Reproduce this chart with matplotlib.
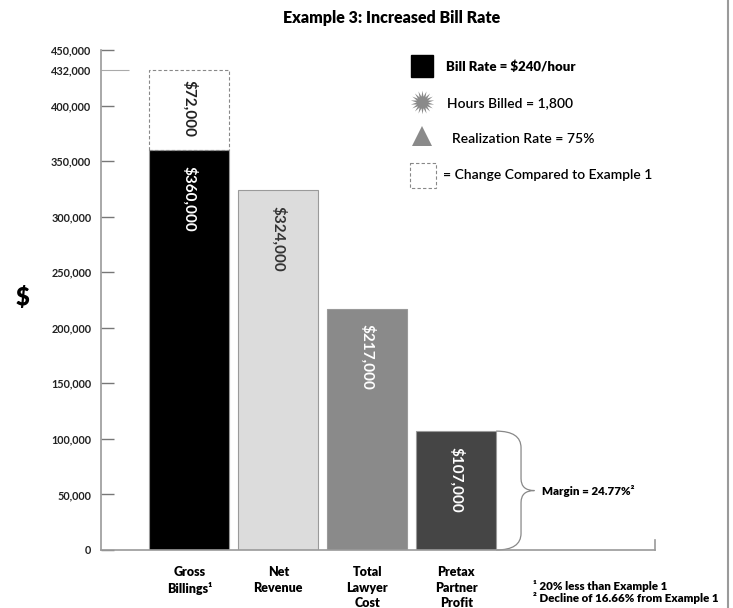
import matplotlib
matplotlib.use("Agg")
import matplotlib.pyplot as plt
from matplotlib.path import Path
from matplotlib.patches import PathPatch, Rectangle

categories = ["Gross\nBillings\u00b9", "Net\nRevenue", "Total\nLawyer\nCost", "Pretax\nPartner\nProfit"]
values = [360000, 324000, 217000, 107000]
value_labels = ["$360,000", "$324,000", "$217,000", "$107,000"]
change_value = 72000
change_label = "$72,000"
ytick_values = [0, 50000, 100000, 150000, 200000, 250000, 300000, 350000, 400000, 450000]
ytick_labels = ["0", "50,000", "100,000", "150,000", "200,000", "250,000", "300,000", "350,000", "400,000", "450,000"]
extra_tick = 432000
extra_tick_label = "432,000"
legend_items = ["Bill Rate = $240/hour", "Hours Billed = 1,800", "Realization Rate = 75%", "= Change Compared to Example 1"]
margin_label = "Margin = 24.77%\u00b2"
footnotes = ["\u00b9 20% less than Example 1", "\u00b2 Decline of 16.66% from Example 1"]
title = "Example 3: Increased Bill Rate"

bar_colors = ["#000000", "#dcdcdc", "#8a8a8a", "#454545"]
text_colors = ["white", "#333333", "white", "white"]

FONT = ["Lato", "DejaVu Sans"]
plt.rcParams["font.family"] = FONT

W, H = 733, 608
fig = plt.figure(figsize=(W / 100, H / 100), dpi=100)
fig.patch.set_facecolor("white")

ax = fig.add_axes([101 / W, 58 / H, (655 - 101) / W, 500 / H])
x = list(range(len(values)))
ax.bar(x, values, width=0.9, color=bar_colors, edgecolor="#9a9a9a", linewidth=0.8, zorder=2)
ax.bar(0, change_value, bottom=values[0], width=0.9, fill=False, edgecolor="#888888",
       linestyle=(0, (3, 2)), linewidth=0.8, zorder=2)

for xi, v, lab, tc in zip(x, values, value_labels, text_colors):
    ax.text(xi, v - 14000, lab, rotation=-90, ha="center", va="top", color=tc,
            fontsize=11, fontweight="bold")
ax.text(0, values[0] + change_value - 9000, change_label, rotation=-90, ha="center", va="top",
        color="#222222", fontsize=11, fontweight="bold")

ax.set_xlim(-0.994, 5.236)
ax.set_ylim(0, 450000)
for s in ["top", "right"]:
    ax.spines[s].set_visible(False)
for s in ["left", "bottom"]:
    ax.spines[s].set_color("#9a9a9a")
    ax.spines[s].set_linewidth(1.2)
ax.set_xticks([])
ax.set_yticks(ytick_values)
ax.set_yticklabels(ytick_labels, fontsize=7.8, fontweight="bold", color="#222222")
ax.set_yticks([extra_tick], minor=True)
ax.set_yticklabels([extra_tick_label], minor=True, fontsize=7.8, fontweight="bold", color="#222222")
ax.tick_params(axis="y", which="major", direction="in", length=9, width=1, color="#777777", pad=7)
ax.tick_params(axis="y", which="minor", direction="in", length=20, width=0.8, color="#aaaaaa", pad=7)
ax.plot([1, 1], [0, 0.02], transform=ax.transAxes, color="#9a9a9a", lw=1.2, clip_on=False)

# category labels
for xi, c in zip(x, categories):
    ax.text(xi, -14500, c, ha="center", va="top", fontsize=9, fontweight="heavy",
            linespacing=1.35, clip_on=False)

# brace for margin
x0 = x[3] + 0.45
w = 0.43
y0, y1 = values[3], 0
ym = (y0 + y1) / 2
h = y0 - y1
verts = [(x0, y0), (x0 + w * 0.65, y0), (x0 + w * 0.65, y0 - h * 0.14),
         (x0 + w * 0.65, ym + h * 0.1),
         (x0 + w * 0.65, ym), (x0 + w, ym),
         (x0 + w * 0.65, ym), (x0 + w * 0.65, ym - h * 0.1),
         (x0 + w * 0.65, y1 + h * 0.14),
         (x0 + w * 0.65, y1), (x0, y1)]
codes = [Path.MOVETO, Path.CURVE3, Path.CURVE3, Path.LINETO, Path.CURVE3, Path.CURVE3,
         Path.CURVE3, Path.CURVE3, Path.LINETO, Path.CURVE3, Path.CURVE3]
ax.add_patch(PathPatch(Path(verts, codes), fill=False, edgecolor="#888888", lw=0.9, clip_on=False))
ax.text(x0 + w + 0.08, ym, margin_label, ha="left", va="center", fontsize=8.3, fontweight="heavy")

# overlay for legend, title, annotations
ov = fig.add_axes([0, 0, 1, 1], facecolor="none")
ov.set_xlim(0, W)
ov.set_ylim(H, 0)
ov.axis("off")

ov.text(392, 18, title, ha="center", va="center", fontsize=11.5, fontweight="heavy")
ov.text(22, 298, "$", ha="center", va="center", fontsize=17, fontweight="heavy")

ov.add_patch(Rectangle((411, 55), 22, 22, facecolor="black", edgecolor="black"))
ov.plot(422, 102, marker=(18, 1, 0), markersize=17, color="#8a8a8a", markeredgewidth=0)
ov.plot(422, 136, marker="^", markersize=15, color="#8a8a8a", markeredgewidth=0)
ov.add_patch(Rectangle((410, 163), 26, 25, fill=False, edgecolor="#888888",
                       linestyle=(0, (3, 2)), lw=0.8))
ov.text(446, 67, legend_items[0], ha="left", va="center", fontsize=9.5, fontweight="heavy")
ov.text(447, 103, legend_items[1], ha="left", va="center", fontsize=10, fontweight="semibold")
ov.text(452, 139, legend_items[2], ha="left", va="center", fontsize=10, fontweight="semibold")
ov.text(443, 175, legend_items[3], ha="left", va="center", fontsize=10, fontweight="semibold")

ov.text(533, 586, footnotes[0], ha="left", va="center", fontsize=8.3, fontweight="heavy")
ov.text(533, 598, footnotes[1], ha="left", va="center", fontsize=8.3, fontweight="heavy")

ov.plot([728, 728], [0, H], color="#9a9a9a", lw=1.5)

fig.savefig("out.png", dpi=100, facecolor="white")
